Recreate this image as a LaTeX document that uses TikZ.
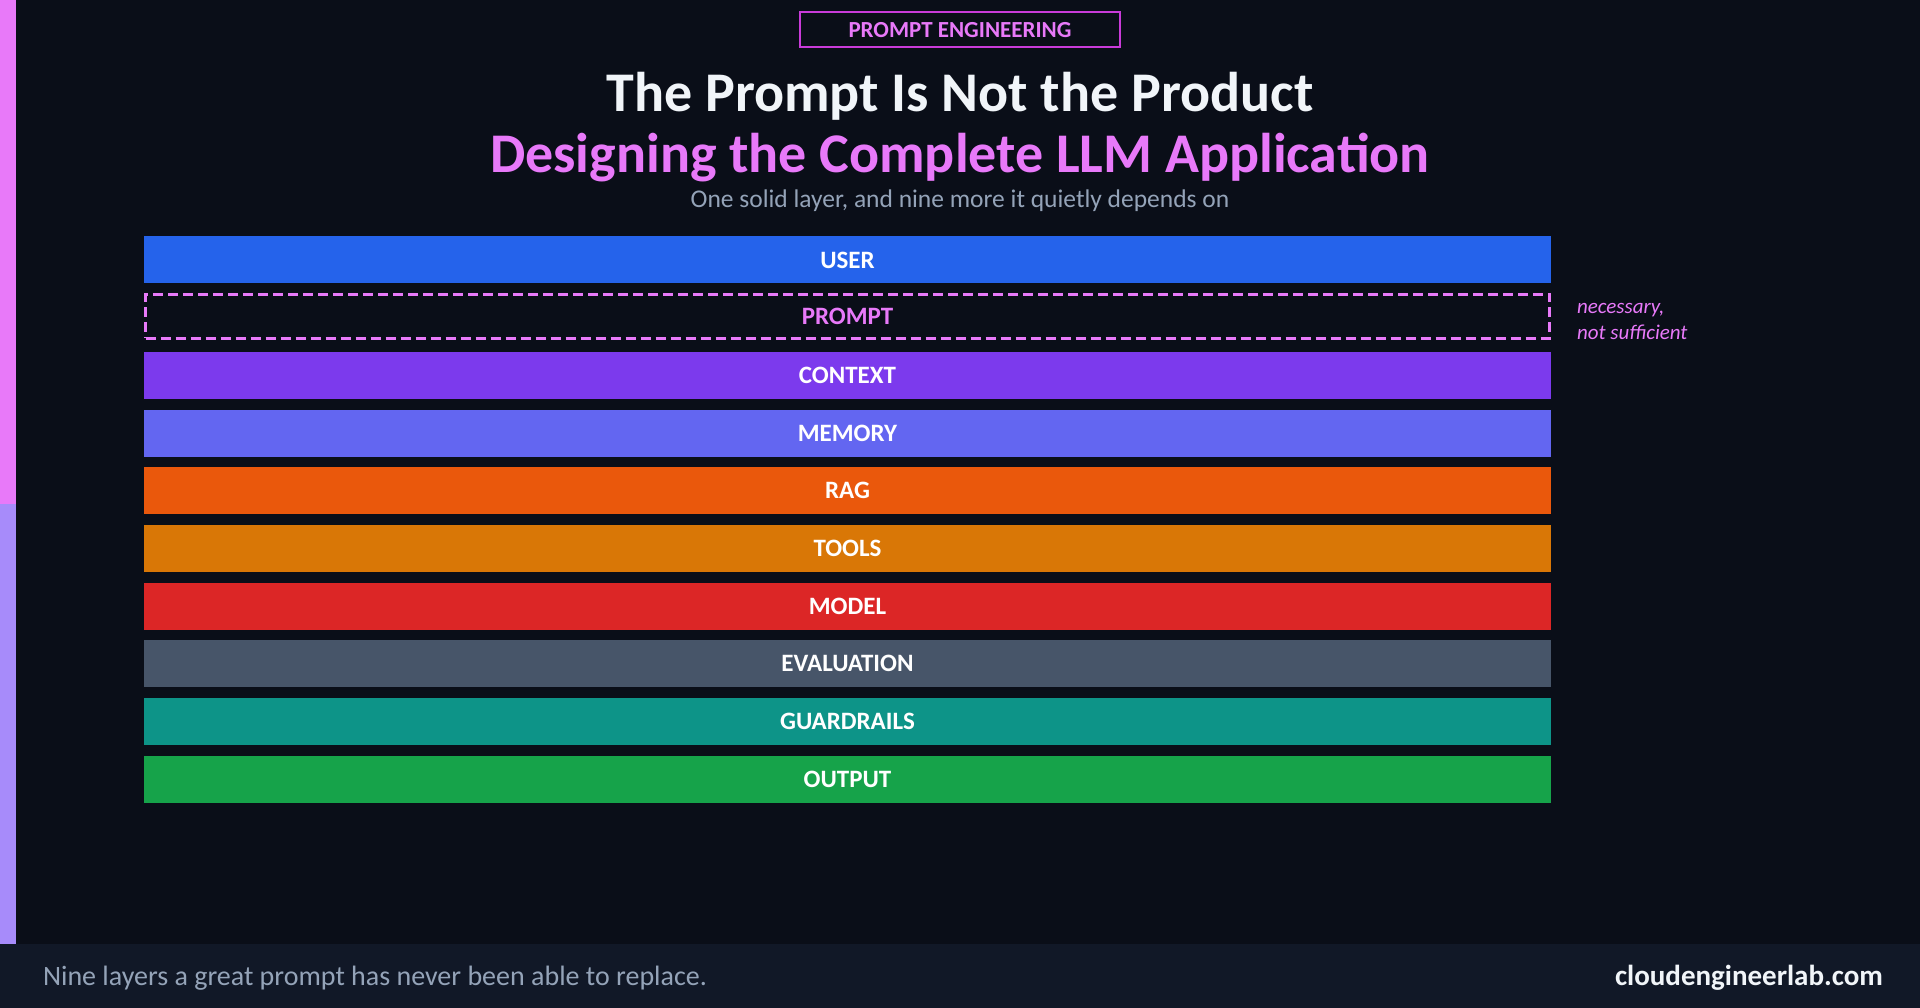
\documentclass[tikz,border=0pt]{standalone}
\usepackage{fontspec}
\setmainfont{Carlito}
\usetikzlibrary{positioning}

\definecolor{pagebg}{HTML}{0A0E18}
\definecolor{footbg}{HTML}{111827}
\definecolor{fuchsia}{HTML}{E879F9}
\definecolor{badgeline}{HTML}{C93BD9}
\definecolor{lavender}{HTML}{A78BFA}
\definecolor{titlewhite}{HTML}{F1F5F9}
\definecolor{softgray}{HTML}{94A3B8}
\definecolor{cuser}{HTML}{2563EB}
\definecolor{ccontext}{HTML}{7C3AED}
\definecolor{cmemory}{HTML}{6366F1}
\definecolor{crag}{HTML}{EA580C}
\definecolor{ctools}{HTML}{D97706}
\definecolor{cmodel}{HTML}{DC2626}
\definecolor{ceval}{HTML}{475569}
\definecolor{cguard}{HTML}{0D9488}
\definecolor{coutput}{HTML}{16A34A}

\begin{document}
\begin{tikzpicture}
[x=1pt,y=-1pt,%
  every node/.style={inner sep=0pt,outer sep=0pt},%
  layer/.style={rectangle,minimum width=1407pt,minimum height=47pt,text=white,%
    font=\fontsize{25}{30}\selectfont\bfseries},%
  node distance=10.7pt]
\fill[pagebg] (0,0) rectangle (1920,1008);
\fill[footbg] (0,944) rectangle (1920,1008);
\fill[fuchsia] (0,0) rectangle (16,504);
\fill[lavender] (0,504) rectangle (16,944);
\node[draw=badgeline,line width=2pt,minimum width=320pt,minimum height=35pt,%
  text=fuchsia,font=\fontsize{23}{26}\selectfont\bfseries] (badge) at (960,30) {PROMPT ENGINEERING};
\node[anchor=base,text=titlewhite,font=\fontsize{56}{64}\selectfont\bfseries] (title) at (960,112) {The Prompt Is Not the Product};
\node[anchor=base,text=fuchsia,font=\fontsize{56}{64}\selectfont\bfseries] (subtitle) at (960,173) {Designing the Complete LLM Application};
\node[anchor=base,text=softgray,font=\fontsize{25.5}{30}\selectfont] (tagline) at (960,208) {One solid layer, and nine more it quietly depends on};
\node[layer,fill=cuser] (user) at (847.5,260) {USER};
\node[layer,below=of user,draw=fuchsia,line width=3pt,dash pattern=on 10pt off 5pt,%
  minimum height=44pt,minimum width=1404pt,text=fuchsia] (prompt) {PROMPT};
\node[layer,fill=ccontext] (context) at (847.5,375.3) {CONTEXT};
\node[layer,fill=cmemory,below=of context] (memory) {MEMORY};
\node[layer,fill=crag,below=of memory] (rag) {RAG};
\node[layer,fill=ctools,below=of rag] (tools) {TOOLS};
\node[layer,fill=cmodel,below=of tools] (model) {MODEL};
\node[layer,fill=ceval,below=of model] (eval) {EVALUATION};
\node[layer,fill=cguard,below=of eval] (guard) {GUARDRAILS};
\node[layer,fill=coutput,below=of guard] (output) {OUTPUT};
\node[anchor=west,align=left,text=fuchsia,font=\fontsize{21}{26}\selectfont\itshape] (note) at (1577,321) {necessary,\\not sufficient};
\node[anchor=west,text=softgray,font=\fontsize{28}{32}\selectfont] (footnote) at (43,978) {Nine layers a great prompt has never been able to replace.};
\node[anchor=east,text=titlewhite,font=\fontsize{29}{32}\selectfont\bfseries] (site) at (1883,978) {cloudengineerlab.com};
\end{tikzpicture}
\end{document}
